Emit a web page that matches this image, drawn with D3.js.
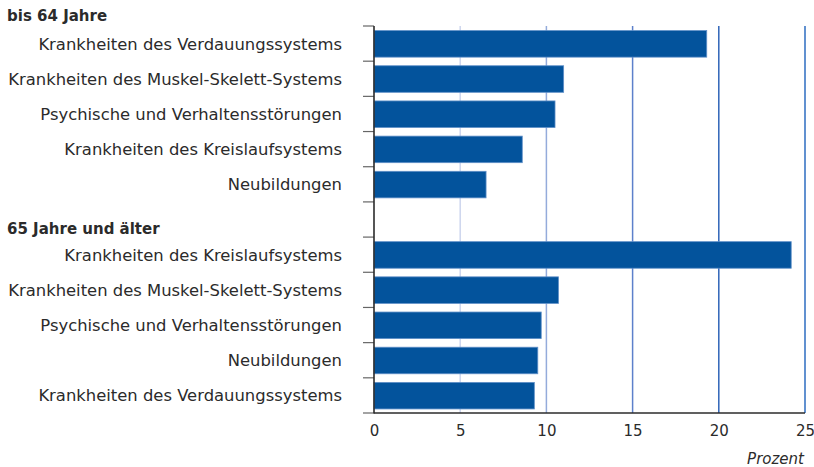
<!DOCTYPE html>
<html lang="de">
<head>
<meta charset="utf-8">
<script src="https://cdn.jsdelivr.net/npm/d3@7"></script>
<style>
  html, body { margin: 0; padding: 0; background: #fff; }
  svg { display: block; }
  text { font-family: "DejaVu Sans", "Noto Sans", sans-serif; fill: #2b2b2b; }
</style>
</head>
<body>
<svg id="chart" width="814" height="467"></svg>
<script>
// Häufigste Diagnosegruppen nach Altersgruppe (Anteil in Prozent)
const groupTitles = ["bis 64 Jahre", "65 Jahre und älter"];

const causesUnder65 = [
  "Krankheiten des Verdauungssystems",
  "Krankheiten des Muskel-Skelett-Systems",
  "Psychische und Verhaltensstörungen",
  "Krankheiten des Kreislaufsystems",
  "Neubildungen"
];
const valuesUnder65 = [19.3, 11.0, 10.5, 8.6, 6.5];

const causesOver65 = [
  "Krankheiten des Kreislaufsystems",
  "Krankheiten des Muskel-Skelett-Systems",
  "Psychische und Verhaltensstörungen",
  "Neubildungen",
  "Krankheiten des Verdauungssystems"
];
const valuesOver65 = [24.2, 10.7, 9.7, 9.5, 9.3];

const xTicks = [0, 5, 10, 15, 20, 25];
const xUnit = "Prozent";

// Rows: group 1, an empty slot that carries the second heading, group 2
const rows = [
  ...causesUnder65.map((c, i) => ({ id: "a" + i, label: c, value: valuesUnder65[i] })),
  { id: "gap", label: null, value: null },
  ...causesOver65.map((c, i) => ({ id: "b" + i, label: c, value: valuesOver65[i] }))
];

const svg = d3.select("#chart");
const plotLeft = 374, plotRight = 805, plotTop = 26, plotBottom = 413;

const x = d3.scaleLinear().domain([0, 25]).range([plotLeft, plotRight]);
const y = d3.scaleBand().domain(rows.map(r => r.id)).range([plotTop, plotBottom]).padding(0);
const bw = y.bandwidth();

// Vertical grid lines, getting stronger towards the right
const gridColors = ["#cdd5ee", "#94abdb", "#5d80cb", "#2f64b8", "#2c6cc0"];
svg.append("g").selectAll("line")
  .data(xTicks.slice(1))
  .join("line")
  .attr("x1", d => x(d)).attr("x2", d => x(d))
  .attr("y1", plotTop).attr("y2", plotBottom)
  .attr("stroke", (d, i) => gridColors[i])
  .attr("stroke-width", 1.5);

// Bars
svg.append("g").selectAll("rect")
  .data(rows.filter(r => r.value !== null))
  .join("rect")
  .attr("x", x(0))
  .attr("y", d => y(d.id) + bw * 0.13)
  .attr("width", d => x(d.value) - x(0))
  .attr("height", bw * 0.755)
  .attr("fill", "#03539c")
  .attr("stroke", "#5f8fc8")
  .attr("stroke-width", 0.8);

// Tick marks on the category axis at every row boundary
const boundaries = rows.map(r => y(r.id)).concat([plotBottom]);
svg.append("g").selectAll("line")
  .data(boundaries)
  .join("line")
  .attr("x1", plotLeft - 11).attr("x2", plotLeft)
  .attr("y1", d => d).attr("y2", d => d)
  .attr("stroke", "#666")
  .attr("stroke-width", 1.2);

// Axis lines
svg.append("line")
  .attr("x1", plotLeft).attr("x2", plotLeft).attr("y1", plotTop).attr("y2", plotBottom + 0.5)
  .attr("stroke", "#2b2b2b").attr("stroke-width", 1.6);
svg.append("line")
  .attr("x1", plotLeft).attr("x2", plotRight).attr("y1", plotBottom).attr("y2", plotBottom)
  .attr("stroke", "#2b2b2b").attr("stroke-width", 1.4);

// Value axis labels
const xAxis = d3.axisBottom(x).tickValues(xTicks).tickSize(0).tickPadding(12);
const gx = svg.append("g").attr("transform", `translate(0,${plotBottom})`).call(xAxis);
gx.select(".domain").remove();
gx.selectAll("text")
  .attr("font-size", 15)
  .attr("fill", "#2b2b2b")
  .style("font-family", "\"DejaVu Sans\", sans-serif");

svg.append("text")
  .attr("x", plotRight - 1).attr("y", 464)
  .attr("text-anchor", "end")
  .attr("font-size", 15)
  .attr("font-style", "italic")
  .text(xUnit);

// Category labels
svg.append("g").selectAll("text")
  .data(rows.filter(r => r.label))
  .join("text")
  .attr("x", 342)
  .attr("y", d => y(d.id) + bw / 2 + 6)
  .attr("text-anchor", "end")
  .attr("font-size", 16.4)
  .text(d => d.label);

// Group headings
const headingY = [y("a0") - 5, y("b0") - 3];
svg.append("g").selectAll("text")
  .data(groupTitles)
  .join("text")
  .attr("x", 7)
  .attr("y", (d, i) => headingY[i])
  .attr("font-size", 15)
  .attr("font-weight", "bold")
  .text(d => d);
</script>
</body>
</html>
